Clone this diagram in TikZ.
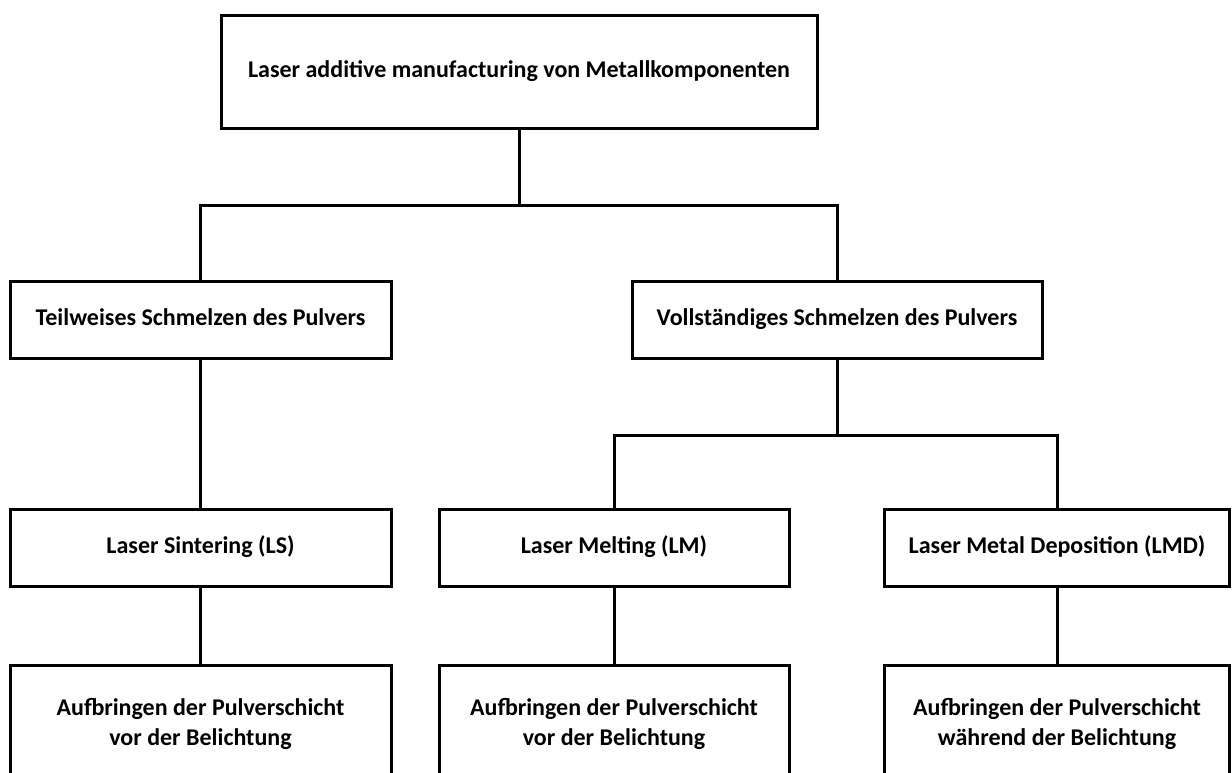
\documentclass[tikz,border=0pt]{standalone}
\usepackage{fontspec}
\setmainfont{Carlito}
\begin{document}
\begin{tikzpicture}[x=1pt,y=-1pt,
  box/.style={draw=black,line width=3pt,fill=white,rectangle,inner sep=0pt,align=center,
    font=\fontsize{24}{30}\selectfont\bfseries},
  oneline/.style={text height=16pt,text depth=5pt},
  conn/.style={draw=black,line width=3pt,line join=miter}]
\useasboundingbox (0,0) rectangle (1232,772);
\clip (0,0) rectangle (1232,772);
\fill[white] (0,0) rectangle (1232,772);
\node[box,oneline,minimum width=596pt,minimum height=113pt] (top) at (519,72) {Laser additive manufacturing von Metallkomponenten};
\node[box,oneline,minimum width=381pt,minimum height=77pt] (teil) at (200.5,319.5) {Teilweises Schmelzen des Pulvers};
\node[box,oneline,minimum width=410pt,minimum height=77pt] (voll) at (837,319.5) {Vollständiges Schmelzen des Pulvers};
\node[box,oneline,minimum width=381pt,minimum height=77pt] (ls) at (200.5,547.5) {Laser Sintering (LS)};
\node[box,oneline,minimum width=350pt,minimum height=77pt] (lm) at (614,547.5) {Laser Melting (LM)};
\node[box,oneline,minimum width=345pt,minimum height=77pt] (lmd) at (1057,547.5) {Laser Metal Deposition (LMD)};
\node[box,minimum width=381pt,minimum height=118pt] (bls) at (200.5,724) {Aufbringen der Pulverschicht\\vor der Belichtung};
\node[box,minimum width=350pt,minimum height=118pt] (blm) at (614,724) {Aufbringen der Pulverschicht\\vor der Belichtung};
\node[box,minimum width=345pt,minimum height=118pt] (blmd) at (1057,724) {Aufbringen der Pulverschicht\\während der Belichtung};
\coordinate (j1) at (519,205);
\coordinate (j2) at (837,435);
\draw[conn] (top.south) -- (j1);
\draw[conn] (teil.north) |- (j1) -| (voll.north);
\draw[conn] (voll.south) -- (j2);
\draw[conn] (lm.north) |- (j2) -| (lmd.north);
\draw[conn] (teil.south) -- (ls.north);
\draw[conn] (ls.south) -- (bls.north);
\draw[conn] (lm.south) -- (blm.north);
\draw[conn] (lmd.south) -- (blmd.north);
\end{tikzpicture}
\end{document}
